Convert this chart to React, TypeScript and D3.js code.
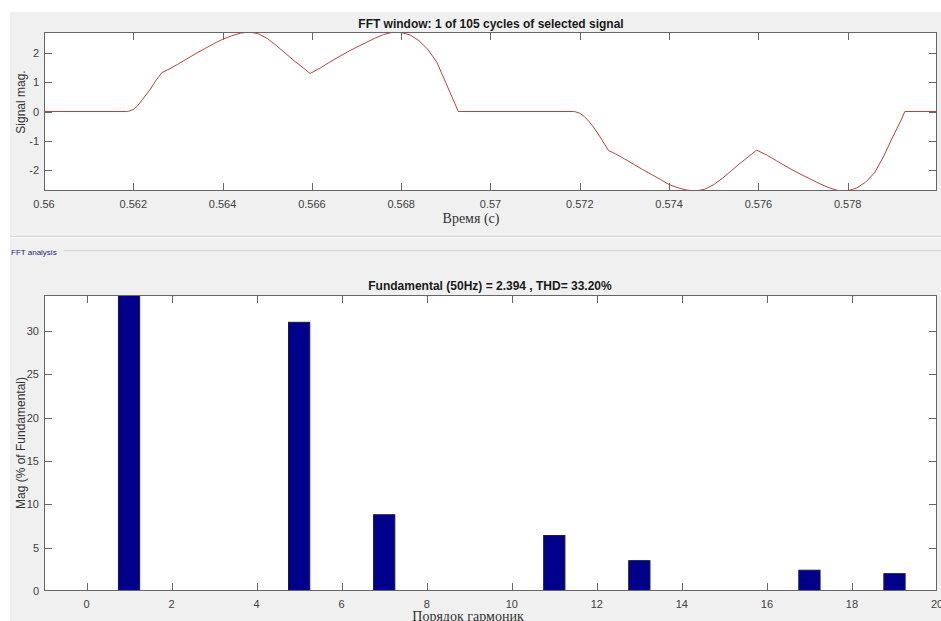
import React, { useRef, useEffect } from 'react';
import * as d3 from 'd3';

// signal window (time in s, magnitude)
const signalTime = [
  0.560, 0.56185, 0.5619, 0.5620, 0.5621, 0.5622, 0.5623, 0.5624, 0.5625, 0.56264,
  0.5628, 0.5630, 0.5632, 0.5634, 0.5636, 0.5638, 0.5640, 0.5642, 0.5644, 0.5646,
  0.5648, 0.5650, 0.5652, 0.5654, 0.5656, 0.5658, 0.56596, 0.5662, 0.5664, 0.5666,
  0.5668, 0.5670, 0.5672, 0.5674, 0.5676, 0.5678, 0.5680, 0.5682, 0.5684, 0.5686,
  0.5688, 0.5690, 0.5692, 0.56928,
  0.57186, 0.5719, 0.5720, 0.5721, 0.5722, 0.5723, 0.5724, 0.5725, 0.57264, 0.5728,
  0.5730, 0.5732, 0.5734, 0.5736, 0.5738, 0.5740, 0.5742, 0.5744, 0.5746, 0.5748,
  0.5750, 0.5752, 0.5754, 0.5756, 0.5758, 0.57596, 0.5762, 0.5764, 0.5766, 0.5768,
  0.5770, 0.5772, 0.5774, 0.5776, 0.5778, 0.5780, 0.5782, 0.5784, 0.5786, 0.5788,
  0.5790, 0.5792, 0.57928, 0.580,
];
const signalMag = [
  0, 0, 0.01, 0.07, 0.20, 0.40, 0.60, 0.80, 1.05, 1.33,
  1.45, 1.62, 1.80, 1.98, 2.15, 2.32, 2.47, 2.59, 2.68, 2.72,
  2.66, 2.50, 2.26, 2.00, 1.74, 1.50, 1.30, 1.50, 1.69, 1.87,
  2.04, 2.20, 2.35, 2.50, 2.63, 2.71, 2.70, 2.62, 2.42, 2.12,
  1.68, 0.98, 0.28, 0,
  0, -0.01, -0.06, -0.17, -0.33, -0.52, -0.74, -0.98, -1.33, -1.45,
  -1.62, -1.80, -1.98, -2.15, -2.32, -2.50, -2.61, -2.69, -2.72, -2.66,
  -2.50, -2.28, -2.02, -1.76, -1.52, -1.32, -1.50, -1.68, -1.86, -2.03,
  -2.19, -2.34, -2.49, -2.62, -2.71, -2.71, -2.62, -2.42, -2.10, -1.55,
  -0.90, -0.28, 0, 0,
];
const timeTicks = [0.56, 0.562, 0.564, 0.566, 0.568, 0.57, 0.572, 0.574, 0.576, 0.578];
const magTicks = [-2, -1, 0, 1, 2];

// FFT spectrum, % of fundamental
const harmonicOrder = [0, 1, 2, 3, 4, 5, 6, 7, 8, 9, 10, 11, 12, 13, 14, 15, 16, 17, 18, 19];
const harmonicMag = [0, 100, 0, 0, 0, 31.0, 0, 8.8, 0, 0, 0, 6.4, 0, 3.5, 0, 0, 0, 2.4, 0, 2.0];
const orderTicks = [0, 2, 4, 6, 8, 10, 12, 14, 16, 18, 20];
const pctTicks = [0, 5, 10, 15, 20, 25, 30];

const W = 941;
const H = 621;
const SANS = '"Liberation Sans", Arial, sans-serif';
const SERIF = '"Liberation Serif", "Times New Roman", serif';
const AXIS = '#666';
const TXT = '#404040';
const TICK = 8;

function drawBox(g: any, x: any, y: any, xt: number[], yt: number[], fmtX: (d: number) => string) {
  const [x0, x1] = x.range();
  const [y0, y1] = y.range(); // y0 bottom, y1 top
  g.append('rect').attr('x', x0).attr('y', y1).attr('width', x1 - x0).attr('height', y0 - y1)
    .attr('fill', 'white');
  return () => {
    const ax = g.append('g');
    ax.append('rect').attr('x', x0 + 0.5).attr('y', y1 + 0.5).attr('width', x1 - x0 - 1)
      .attr('height', y0 - y1 - 1).attr('fill', 'none').attr('stroke', AXIS);
    xt.forEach((d) => {
      const px = Math.round(x(d)) + 0.5;
      if (px > x0 + 1 && px < x1 - 1) {
        ax.append('line').attr('x1', px).attr('x2', px).attr('y1', y0).attr('y2', y0 - TICK).attr('stroke', AXIS);
        ax.append('line').attr('x1', px).attr('x2', px).attr('y1', y1).attr('y2', y1 + TICK).attr('stroke', AXIS);
      }
      ax.append('text').attr('x', x(d)).attr('y', y0 + 17).attr('text-anchor', 'middle')
        .attr('font-family', SANS).attr('font-size', 11).attr('fill', TXT).text(fmtX(d));
    });
    yt.forEach((d) => {
      const py = Math.round(y(d)) + 0.5;
      if (py > y1 + 1 && py < y0 - 1) {
        ax.append('line').attr('x1', x0).attr('x2', x0 + TICK).attr('y1', py).attr('y2', py).attr('stroke', AXIS);
        ax.append('line').attr('x1', x1).attr('x2', x1 - TICK).attr('y1', py).attr('y2', py).attr('stroke', AXIS);
      }
      ax.append('text').attr('x', x0 - 5).attr('y', y(d) + 4).attr('text-anchor', 'end')
        .attr('font-family', SANS).attr('font-size', 11).attr('fill', TXT).text(String(d));
    });
  };
}

const App = () => {
  const svgRef = useRef<SVGSVGElement>(null);

  useEffect(() => {
    const svg = d3.select(svgRef.current);
    svg.selectAll('*').remove();

    // panel background
    svg.append('rect').attr('width', W).attr('height', H).attr('fill', 'white');
    svg.append('rect').attr('x', 10).attr('y', 12).attr('width', W - 10).attr('height', H - 12).attr('fill', '#f0f0f0');
    svg.append('line').attr('x1', 10).attr('x2', W).attr('y1', 236.5).attr('y2', 236.5).attr('stroke', '#d4d4d4');
    svg.append('line').attr('x1', 10).attr('x2', W).attr('y1', 237.5).attr('y2', 237.5).attr('stroke', '#fbfbfb');
    svg.append('line').attr('x1', 64).attr('x2', W).attr('y1', 250.5).attr('y2', 250.5).attr('stroke', '#d4d4d4');
    svg.append('text').attr('x', 11).attr('y', 255).attr('font-family', SANS).attr('font-size', 8)
      .attr('fill', '#1c1c7a').text('FFT analysis');

    // ---- top: signal ----
    const xT = d3.scaleLinear().domain([0.56, 0.58]).range([44, 937]);
    const yT = d3.scaleLinear().domain([-2.72, 2.72]).range([191, 32]);
    const gT = svg.append('g');
    const finishT = drawBox(gT, xT, yT, timeTicks, magTicks, (d) => String(+d.toFixed(3)));

    svg.append('clipPath').attr('id', 'clipT').append('rect')
      .attr('x', 44).attr('y', 32).attr('width', 893).attr('height', 159);
    const pts: [number, number][] = signalTime.map((t, i) => [t, signalMag[i]]);
    const line = d3.line<[number, number]>().x((d) => xT(d[0])).y((d) => yT(d[1]));
    gT.append('path').attr('d', line(pts)).attr('fill', 'none').attr('stroke', '#b5433f')
      .attr('stroke-width', 1).attr('clip-path', 'url(#clipT)');
    finishT();

    gT.append('text').attr('x', 491).attr('y', 28).attr('text-anchor', 'middle').attr('font-family', SANS)
      .attr('font-size', 12).attr('font-weight', 'bold').attr('fill', '#1a1a1a')
      .text('FFT window: 1 of 105 cycles of selected signal');
    gT.append('text').attr('x', 471).attr('y', 223).attr('text-anchor', 'middle').attr('font-family', SERIF)
      .attr('font-size', 14).attr('fill', '#333').text('Время (с)');
    gT.append('text').attr('transform', 'translate(25,102) rotate(-90)').attr('text-anchor', 'middle')
      .attr('font-family', SANS).attr('font-size', 12).attr('fill', '#333').text('Signal mag.');

    // ---- bottom: spectrum ----
    const xB = d3.scaleLinear().domain([-1, 20]).range([44, 937]);
    const yB = d3.scaleLinear().domain([0, 34.15]).range([591, 295]);
    const gB = svg.append('g');
    const finishB = drawBox(gB, xB, yB, orderTicks, pctTicks, (d) => String(d));

    svg.append('clipPath').attr('id', 'clipB').append('rect')
      .attr('x', 44).attr('y', 295).attr('width', 893).attr('height', 296);
    const bw = 0.5;
    gB.append('g').attr('clip-path', 'url(#clipB)').selectAll('rect')
      .data(harmonicOrder.map((h, i) => ({ h, v: harmonicMag[i] })).filter((d) => d.v > 0))
      .join('rect')
      .attr('x', (d) => xB(d.h - bw / 2))
      .attr('width', (d) => xB(d.h + bw / 2) - xB(d.h - bw / 2))
      .attr('y', (d) => yB(d.v))
      .attr('height', (d) => yB(0) - yB(d.v))
      .attr('fill', '#00008b')
      .attr('stroke', '#1a1a3a')
      .attr('stroke-width', 1);
    finishB();

    gB.append('text').attr('x', 490).attr('y', 290).attr('text-anchor', 'middle').attr('font-family', SANS)
      .attr('font-size', 12).attr('font-weight', 'bold').attr('fill', '#1a1a1a')
      .text('Fundamental (50Hz) = 2.394 , THD= 33.20%');
    gB.append('text').attr('x', 468).attr('y', 621).attr('text-anchor', 'middle').attr('font-family', SERIF)
      .attr('font-size', 14).attr('fill', '#333').text('Порядок гармоник');
    gB.append('text').attr('transform', 'translate(25,443) rotate(-90)').attr('text-anchor', 'middle')
      .attr('font-family', SANS).attr('font-size', 12).attr('fill', '#333').text('Mag (% of Fundamental)');
  }, []);

  return (
    <svg ref={svgRef} width={W} height={H}
      style={{ position: 'absolute', left: 0, top: 0, display: 'block' }} />
  );
};

export default App;
